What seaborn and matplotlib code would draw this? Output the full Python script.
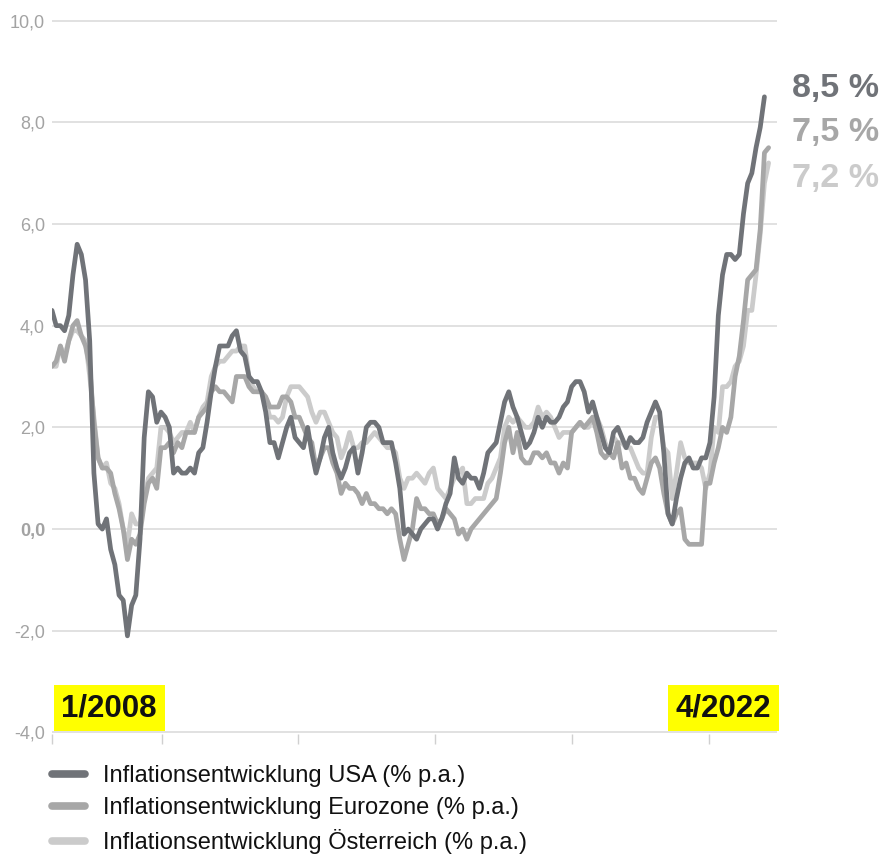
import numpy as np
import pandas as pd
import matplotlib.pyplot as plt
from matplotlib.lines import Line2D
import seaborn as sns

# --- data: monthly inflation, % p.a., starting 1/2008 ---
us = [4.3, 4.0, 4.0, 3.9, 4.2, 5.0, 5.6, 5.4, 4.9, 3.7, 1.1, 0.1,
      0.0, 0.2, -0.4, -0.7, -1.3, -1.4, -2.1, -1.5, -1.3, -0.2, 1.8, 2.7,
      2.6, 2.1, 2.3, 2.2, 2.0, 1.1, 1.2, 1.1, 1.1, 1.2, 1.1, 1.5,
      1.6, 2.1, 2.7, 3.2, 3.6, 3.6, 3.6, 3.8, 3.9, 3.5, 3.4, 3.0,
      2.9, 2.9, 2.7, 2.3, 1.7, 1.7, 1.4, 1.7, 2.0, 2.2, 1.8, 1.7,
      1.6, 2.0, 1.5, 1.1, 1.4, 1.8, 2.0, 1.5, 1.2, 1.0, 1.2, 1.5,
      1.6, 1.1, 1.5, 2.0, 2.1, 2.1, 2.0, 1.7, 1.7, 1.7, 1.3, 0.8,
      -0.1, 0.0, -0.1, -0.2, 0.0, 0.1, 0.2, 0.2, 0.0, 0.2, 0.5, 0.7,
      1.4, 1.0, 0.9, 1.1, 1.0, 1.0, 0.8, 1.1, 1.5, 1.6, 1.7, 2.1,
      2.5, 2.7, 2.4, 2.2, 1.9, 1.6, 1.7, 1.9, 2.2, 2.0, 2.2, 2.1,
      2.1, 2.2, 2.4, 2.5, 2.8, 2.9, 2.9, 2.7, 2.3, 2.5, 2.2, 1.9,
      1.6, 1.5, 1.9, 2.0, 1.8, 1.6, 1.8, 1.7, 1.7, 1.8, 2.1, 2.3,
      2.5, 2.3, 1.5, 0.3, 0.1, 0.6, 1.0, 1.3, 1.4, 1.2, 1.2, 1.4,
      1.4, 1.7, 2.6, 4.2, 5.0, 5.4, 5.4, 5.3, 5.4, 6.2, 6.8, 7.0,
      7.5, 7.9, 8.5]

eurozone = [3.2, 3.3, 3.6, 3.3, 3.7, 4.0, 4.1, 3.8, 3.6, 3.2, 2.1, 1.4,
            1.2, 1.2, 1.1, 0.7, 0.4, 0.0, -0.6, -0.2, -0.3, -0.1, 0.5, 0.9,
            1.0, 0.8, 1.6, 1.6, 1.7, 1.5, 1.7, 1.6, 1.9, 1.9, 1.9, 2.2,
            2.3, 2.4, 2.7, 2.8, 2.7, 2.7, 2.6, 2.5, 3.0, 3.0, 3.0, 2.8,
            2.7, 2.7, 2.7, 2.6, 2.4, 2.4, 2.4, 2.6, 2.6, 2.5, 2.2, 2.2,
            2.0, 1.8, 1.7, 1.2, 1.4, 1.6, 1.6, 1.3, 1.1, 0.7, 0.9, 0.8,
            0.8, 0.7, 0.5, 0.7, 0.5, 0.5, 0.4, 0.4, 0.3, 0.4, 0.3, -0.2,
            -0.6, -0.3, 0.0, 0.6, 0.4, 0.4, 0.3, 0.3, 0.1, 0.2, 0.4, 0.3,
            0.2, -0.1, 0.0, -0.2, 0.0, 0.1, 0.2, 0.3, 0.4, 0.5, 0.6, 1.1,
            1.7, 2.0, 1.5, 1.9, 1.4, 1.3, 1.3, 1.5, 1.5, 1.4, 1.5, 1.3,
            1.3, 1.1, 1.3, 1.2, 1.9, 2.0, 2.1, 2.0, 2.1, 2.2, 1.9, 1.5,
            1.4, 1.5, 1.4, 1.7, 1.2, 1.3, 1.0, 1.0, 0.8, 0.7, 1.0, 1.3,
            1.4, 1.2, 0.7, 0.3, 0.1, 0.3, 0.4, -0.2, -0.3, -0.3, -0.3, -0.3,
            0.9, 0.9, 1.3, 1.6, 2.0, 1.9, 2.2, 3.0, 3.4, 4.1, 4.9, 5.0,
            5.1, 5.9, 7.4, 7.5]

austria = [3.2, 3.2, 3.6, 3.4, 3.7, 3.9, 3.9, 3.8, 3.7, 3.0, 2.2, 1.4,
           1.2, 1.3, 0.9, 0.8, 0.5, 0.0, -0.3, 0.3, 0.1, 0.1, 0.6, 1.0,
           1.1, 1.2, 2.0, 2.0, 1.9, 1.7, 1.8, 1.9, 1.9, 2.1, 1.9, 2.2,
           2.4, 2.5, 3.0, 3.2, 3.3, 3.3, 3.4, 3.5, 3.5, 3.6, 3.6, 3.0,
           2.8, 2.7, 2.7, 2.5, 2.2, 2.2, 2.1, 2.2, 2.6, 2.8, 2.8, 2.8,
           2.7, 2.6, 2.3, 2.1, 2.3, 2.3, 2.1, 1.9, 1.8, 1.4, 1.6, 1.9,
           1.6, 1.6, 1.7, 1.7, 1.8, 1.9, 1.8, 1.7, 1.6, 1.6, 1.5, 1.0,
           0.8, 1.0, 1.0, 1.1, 1.0, 0.9, 1.1, 1.2, 0.8, 0.7, 0.6, 0.8,
           1.0, 1.1, 1.2, 0.5, 0.5, 0.6, 0.6, 0.6, 0.9, 1.0, 1.2, 1.4,
           2.0, 2.2, 2.1, 2.2, 2.1, 2.0, 2.0, 2.1, 2.4, 2.2, 2.3, 2.2,
           2.0, 1.8, 1.9, 1.9, 1.9, 2.0, 2.1, 2.0, 2.0, 2.2, 2.2, 2.0,
           1.7, 1.5, 1.8, 1.7, 1.7, 1.6, 1.6, 1.4, 1.2, 1.1, 1.1, 1.8,
           2.2, 2.2, 1.6, 1.5, 0.6, 1.1, 1.7, 1.4, 1.3, 1.3, 1.3, 1.2,
           0.8, 1.1, 2.0, 1.9, 2.8, 2.8, 2.9, 3.2, 3.3, 3.6, 4.3, 4.3,
           5.0, 5.8, 6.8, 7.2]

series_names = ["Inflationsentwicklung USA (% p.a.)",
                "Inflationsentwicklung Eurozone (% p.a.)",
                "Inflationsentwicklung Österreich (% p.a.)"]
colors = ["#707378", "#a7a7a7", "#cbcbcb"]
end_labels = ["8,5 %", "7,5 %", "7,2 %"]
start_label = "1/2008"
end_label = "4/2022"
y_ticks = [-4, -2, 0, 2, 4, 6, 8, 10]
y_tick_labels = ["-4,0", "-2,0", "0,0", "2,0", "4,0", "6,0", "8,0", "10,0"]

# long-form table for seaborn
frames = []
for name, vals in zip(series_names, [us, eurozone, austria]):
    frames.append(pd.DataFrame({"month": np.arange(len(vals)),
                                "value": vals, "series": name}))
df = pd.concat(frames, ignore_index=True)

sns.set_style("white")
plt.rcParams['font.family'] = ['Liberation Sans', 'DejaVu Sans']

W, H = 888, 856
fig = plt.figure(figsize=(W / 100, H / 100), dpi=100)
ax = fig.add_axes([52 / W, 1 - 734 / H, (777 - 52) / W, (734 - 19) / H])

# draw light lines first so USA sits on top
for name, col in reversed(list(zip(series_names, colors))):
    sns.lineplot(data=df[df["series"] == name], x="month", y="value",
                 color=col, linewidth=3.4, ax=ax, legend=False,
                 solid_capstyle="round", solid_joinstyle="round")

ax.set_xlim(0, 173)
ax.set_ylim(-4.03, 10.03)
ax.set_xlabel("")
ax.set_ylabel("")

ax.set_yticks(y_ticks)
ax.set_yticklabels(y_tick_labels)
ax.yaxis.grid(True, color="#d9d9d9", linewidth=1.1)
ax.xaxis.grid(False)
ax.tick_params(axis="y", left=False, length=0, pad=5, labelsize=13,
               labelcolor="#a3a3a3")
for lab in ax.get_yticklabels():
    if lab.get_text() == "0,0":
        lab.set_fontweight("bold")

ax.set_xticks([0, 26.3, 58.8, 91.5, 124.2, 156.7])
ax.set_xticklabels([])
ax.tick_params(axis="x", bottom=True, length=7, width=1, color="#d0d0d0",
               direction="out")
for s in ax.spines.values():
    s.set_visible(False)

# yellow period markers
box = dict(boxstyle="square,pad=0.25", fc="#ffff00", ec="none")
ax.text(0.013, 0.015, start_label, transform=ax.transAxes, fontsize=22.5,
        fontweight="bold", color="#111111", ha="left", va="bottom", bbox=box)
ax.text(0.992, 0.015, end_label, transform=ax.transAxes, fontsize=22.5,
        fontweight="bold", color="#111111", ha="right", va="bottom", bbox=box)

# end value labels
for lab, col, ypx in zip(end_labels, colors, [89, 133, 178]):
    fig.text(792 / W, 1 - ypx / H, lab, color=col, fontsize=24.5,
             fontweight="bold", ha="left", va="center")

# legend
handles = [Line2D([0], [0], color=c, linewidth=5.5, solid_capstyle="round")
           for c in colors]
fig.legend(handles, series_names, loc="upper left",
           bbox_to_anchor=(52 / W, 1 - 765 / H), frameon=False,
           fontsize=17, handlelength=1.4, handletextpad=0.75,
           labelspacing=0.42, borderpad=0, borderaxespad=0,
           labelcolor="#111111")

fig.savefig("out.png", dpi=100, facecolor="white")
